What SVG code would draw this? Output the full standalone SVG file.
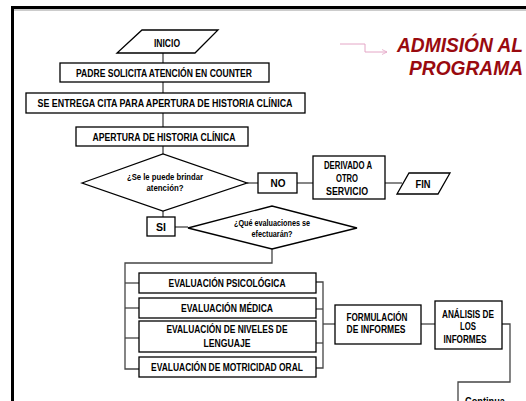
<svg xmlns="http://www.w3.org/2000/svg" width="526" height="401" viewBox="0 0 526 401">
<defs>
<style>
.box{fill:#fff;stroke:#000;stroke-width:1.3}
.ln{fill:none;stroke:#444;stroke-width:1.3}
.t{font-family:"Liberation Sans",Arial,sans-serif;font-weight:bold;font-size:10px;fill:#000;text-anchor:middle}
.s{font-size:8.5px}
.title{font-family:"Liberation Sans",Arial,sans-serif;font-weight:bold;font-style:italic;font-size:21px;fill:#990a0f}
</style>
<marker id="ah" markerWidth="6" markerHeight="6" refX="5" refY="3" orient="auto" markerUnits="userSpaceOnUse">
<path d="M0,0.5 L5,3 L0,5.5" fill="none" stroke="#e4a6c6" stroke-width="0.8"/>
</marker>
</defs>
<rect width="526" height="401" fill="#fff"/>
<rect x="12.5" y="7.5" width="530" height="420" fill="none" stroke="#000" stroke-width="3"/>
<line x1="14" y1="10" x2="526" y2="10" stroke="#999" stroke-width="1"/>

<g id="title">
<path d="M340,44 H365 V52 H387" fill="none" stroke="#e4a6c6" stroke-width="1" marker-end="url(#ah)"/>
<text class="title" x="397" y="52" textLength="126" lengthAdjust="spacingAndGlyphs">ADMISIÓN AL</text>
<text class="title" x="409" y="75" textLength="114" lengthAdjust="spacingAndGlyphs">PROGRAMA</text>
</g>

<g id="connectors">
<path class="ln" d="M163,53 V63"/>
<path class="ln" d="M163,82 V93"/>
<path class="ln" d="M163,113 V127"/>
<path class="ln" d="M163,146 V154"/>
<path class="ln" d="M247,183 H258"/>
<path class="ln" d="M297,183 H313"/>
<path class="ln" d="M385,183 H402"/>
<path class="ln" d="M163,211 V218"/>
<path class="ln" d="M175,227 H188"/>
<path class="ln" d="M272,249 V263 H125 V369 H139"/>
<path class="ln" d="M125,283 H139"/>
<path class="ln" d="M125,308 H139"/>
<path class="ln" d="M125,338 H139"/>
<path class="ln" d="M316,282 H323 V368 H316"/>
<path class="ln" d="M316,309 H323"/>
<path class="ln" d="M316,343 H323"/>
<path class="ln" d="M323,324 H335"/>
<path class="ln" d="M421,324 H435"/>
<path class="ln" d="M502,324 H510 V382 H458 V401"/>
</g>

<g id="inicio">
<polygon class="box" points="142,30 218,30 195,53 117,53"/>
<text class="t" x="167" y="46.5" textLength="26" lengthAdjust="spacingAndGlyphs">INICIO</text>
</g>
<g id="padre">
<rect class="box" x="60" y="63" width="209" height="19"/>
<text class="t" x="164" y="76.5" textLength="176" lengthAdjust="spacingAndGlyphs">PADRE SOLICITA ATENCIÓN EN COUNTER</text>
</g>
<g id="cita">
<rect class="box" x="26" y="93" width="279" height="20"/>
<text class="t" x="165" y="106.5" textLength="255" lengthAdjust="spacingAndGlyphs">SE ENTREGA CITA PARA APERTURA DE HISTORIA CLÍNICA</text>
</g>
<g id="apertura">
<rect class="box" x="76" y="127" width="172" height="19"/>
<text class="t" x="164" y="140.5" textLength="143" lengthAdjust="spacingAndGlyphs">APERTURA DE  HISTORIA CLÍNICA</text>
</g>
<g id="decision1">
<polygon class="box" points="82,183 163,154 247,183 163,211"/>
<text class="t s" x="165" y="180" textLength="76" lengthAdjust="spacingAndGlyphs">¿Se le puede brindar</text>
<text class="t s" x="165" y="191" textLength="37" lengthAdjust="spacingAndGlyphs">atención?</text>
</g>
<g id="no">
<rect class="box" x="258" y="173" width="39" height="20"/>
<text class="t" x="278" y="186.5" textLength="15" lengthAdjust="spacingAndGlyphs">NO</text>
</g>
<g id="derivado">
<rect class="box" x="313" y="156" width="72" height="43"/>
<text class="t" x="348" y="168.5" textLength="48" lengthAdjust="spacingAndGlyphs">DERIVADO A</text>
<text class="t" x="347" y="181.5" textLength="22" lengthAdjust="spacingAndGlyphs">OTRO</text>
<text class="t" x="347" y="194.5" textLength="42" lengthAdjust="spacingAndGlyphs">SERVICIO</text>
</g>
<g id="fin">
<polygon class="box" points="409,173 450,173 438,194 397,194"/>
<text class="t" x="423" y="187.5" textLength="15" lengthAdjust="spacingAndGlyphs">FIN</text>
</g>
<g id="si">
<rect class="box" x="147" y="217" width="28" height="19"/>
<text class="t" x="161" y="230.5" textLength="10" lengthAdjust="spacingAndGlyphs">SI</text>
</g>
<g id="decision2">
<polygon class="box" points="188,228 272,206 357,228 272,249"/>
<text class="t s" x="272" y="226" textLength="76" lengthAdjust="spacingAndGlyphs">¿Qué evaluaciones se</text>
<text class="t s" x="272" y="237" textLength="41" lengthAdjust="spacingAndGlyphs">efectuarán?</text>
</g>
<g id="psico">
<rect class="box" x="139" y="273" width="177" height="20"/>
<text class="t" x="227" y="286.5" textLength="117" lengthAdjust="spacingAndGlyphs">EVALUACIÓN PSICOLÓGICA</text>
</g>
<g id="medica">
<rect class="box" x="139" y="298" width="177" height="20"/>
<text class="t" x="227" y="311.5" textLength="92" lengthAdjust="spacingAndGlyphs">EVALUACIÓN MÉDICA</text>
</g>
<g id="lenguaje">
<rect class="box" x="139" y="321" width="177" height="31"/>
<text class="t" x="227" y="332.5" textLength="121" lengthAdjust="spacingAndGlyphs">EVALUACIÓN DE NIVELES DE</text>
<text class="t" x="227" y="346.5" textLength="47" lengthAdjust="spacingAndGlyphs">LENGUAJE</text>
</g>
<g id="motricidad">
<rect class="box" x="139" y="357" width="177" height="20"/>
<text class="t" x="227" y="370.5" textLength="152" lengthAdjust="spacingAndGlyphs">EVALUACIÓN DE MOTRICIDAD ORAL</text>
</g>
<g id="formulacion">
<rect class="box" x="335" y="305" width="86" height="39"/>
<text class="t" x="377" y="320.5" textLength="61" lengthAdjust="spacingAndGlyphs">FORMULACIÓN</text>
<text class="t" x="376" y="332.5" textLength="59" lengthAdjust="spacingAndGlyphs">DE INFORMES</text>
</g>
<g id="analisis">
<rect class="box" x="435" y="301" width="67" height="48"/>
<text class="t" x="468" y="317.5" textLength="52" lengthAdjust="spacingAndGlyphs">ANÁLISIS DE</text>
<text class="t" x="468" y="329.5" textLength="16" lengthAdjust="spacingAndGlyphs">LOS</text>
<text class="t" x="465" y="342.5" textLength="43" lengthAdjust="spacingAndGlyphs">INFORMES</text>
</g>
<g id="continua">
<text class="t" x="465" y="405" style="text-anchor:start" textLength="40" lengthAdjust="spacingAndGlyphs">Continua</text>
</g>
</svg>
